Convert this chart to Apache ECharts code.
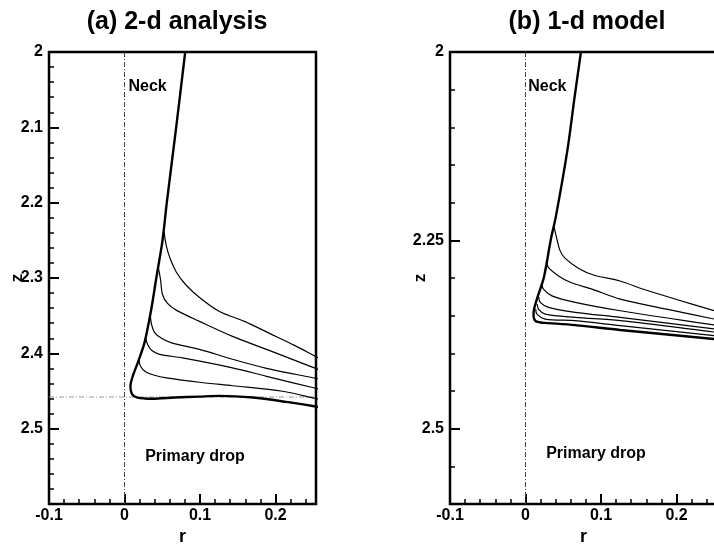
<!DOCTYPE html>
<html>
<head>
<meta charset="utf-8">
<script src="https://cdn.jsdelivr.net/npm/echarts@6/dist/echarts.min.js"></script>
<style>
  html, body { margin: 0; padding: 0; background: #fff; }
  #chart { width: 714px; height: 545px; }
</style>
</head>
<body>
<div id="chart"></div>
<script>
// ---- axis ticks and labels ----
const xMajorTicks = [-0.1, 0, 0.1, 0.2];
const xMinorTicks = [-0.08, -0.06, -0.04, -0.02, 0.02, 0.04, 0.06, 0.08, 0.12, 0.14, 0.16, 0.18, 0.22, 0.24];
const yMajorTicksA = [2, 2.1, 2.2, 2.3, 2.4, 2.5, 2.6];
const yLabelsA = [2, 2.1, 2.2, 2.3, 2.4, 2.5];
const yMinorTicksA = [2.02, 2.04, 2.06, 2.08, 2.12, 2.14, 2.16, 2.18, 2.22, 2.24, 2.26, 2.28,
                      2.32, 2.34, 2.36, 2.38, 2.42, 2.44, 2.46, 2.48, 2.52, 2.54, 2.56, 2.58];
const yMajorTicksB = [2, 2.25, 2.5, 2.6];
const yLabelsB = [2, 2.25, 2.5];
const yMinorTicksB = [2.05, 2.1, 2.15, 2.2, 2.3, 2.35, 2.4, 2.45, 2.55];

const rRange = [-0.1, 0.2536];
const zRange = [2, 2.6];

// ---- (a) 2-d analysis: interface profiles [r, z] ----
const aFinal = [[0.0804, 2.0000], [0.0685, 2.0993], [0.0560, 2.2000], [0.0503, 2.2503], [0.0420, 2.3007],
  [0.0354, 2.3417], [0.0265, 2.3858], [0.0176, 2.4123], [0.0110, 2.4301], [0.0079, 2.4433],
  [0.0086, 2.4503], [0.0110, 2.4556], [0.0172, 2.4587], [0.0265, 2.4599], [0.0371, 2.4603],
  [0.0662, 2.4587], [0.0993, 2.4574], [0.1258, 2.4565], [0.1699, 2.4587], [0.2142, 2.4645],
  [0.2530, 2.4706], [0.2600, 2.4720]];
const aCurve1 = [[0.0523, 2.2384], [0.0556, 2.2583], [0.0609, 2.2755], [0.0689, 2.2927], [0.0808, 2.3086],
  [0.0993, 2.3258], [0.1258, 2.3444], [0.1589, 2.3576], [0.1921, 2.3735], [0.2252, 2.3894],
  [0.2530, 2.4040], [0.2600, 2.4075]];
const aCurve2 = [[0.0448, 2.2861], [0.0477, 2.3020], [0.0503, 2.3219], [0.0570, 2.3338], [0.0689, 2.3430],
  [0.0993, 2.3576], [0.1430, 2.3775], [0.1881, 2.3947], [0.2530, 2.4199], [0.2600, 2.4225]];
const aCurve3 = [[0.0340, 2.3483], [0.0358, 2.3616], [0.0397, 2.3722], [0.0490, 2.3801], [0.0623, 2.3861],
  [0.0993, 2.3947], [0.1430, 2.4079], [0.1881, 2.4199], [0.2530, 2.4331], [0.2600, 2.4345]];
const aCurve4 = [[0.0278, 2.3788], [0.0305, 2.3881], [0.0358, 2.3960], [0.0464, 2.4013], [0.0768, 2.4060],
  [0.1430, 2.4192], [0.1881, 2.4305], [0.2530, 2.4464], [0.2600, 2.4482]];
const aCurve5 = [[0.0192, 2.4093], [0.0212, 2.4172], [0.0278, 2.4245], [0.0397, 2.4291], [0.0556, 2.4325],
  [0.0993, 2.4384], [0.1430, 2.4430], [0.2093, 2.4503], [0.2530, 2.4600], [0.2600, 2.4618]];
const aPinchLevel = 2.458;

// ---- (b) 1-d model: interface profiles [r, z] ----
const bFinal = [[0.0734, 2.0000], [0.0645, 2.0635], [0.0556, 2.1296], [0.0403, 2.2179], [0.0336, 2.2487],
  [0.0248, 2.2972], [0.0195, 2.3148], [0.0151, 2.3280], [0.0112, 2.3420], [0.0106, 2.3490],
  [0.0115, 2.3545], [0.0140, 2.3575], [0.0200, 2.3590], [0.0261, 2.3596], [0.0658, 2.3625],
  [0.1254, 2.3690], [0.2500, 2.3810], [0.2600, 2.3820]];
const bCurve1 = [[0.0380, 2.2328], [0.0415, 2.2480], [0.0459, 2.2640], [0.0526, 2.2740], [0.0700, 2.2870],
  [0.0900, 2.2960], [0.1250, 2.3040], [0.1563, 2.3150], [0.2000, 2.3285], [0.2500, 2.3435], [0.2600, 2.3465]];
const bCurve2 = [[0.0281, 2.2804], [0.0310, 2.2870], [0.0437, 2.2972], [0.0600, 2.3060], [0.0880, 2.3148],
  [0.1254, 2.3280], [0.1900, 2.3420], [0.2500, 2.3545], [0.2600, 2.3567]];
const bCurve3 = [[0.0215, 2.3080], [0.0238, 2.3148], [0.0350, 2.3237], [0.0658, 2.3324], [0.1254, 2.3435],
  [0.2500, 2.3624], [0.2600, 2.3640]];
const bCurve4 = [[0.0175, 2.3254], [0.0195, 2.3324], [0.0305, 2.3390], [0.0658, 2.3456], [0.1254, 2.3523],
  [0.2500, 2.3677], [0.2600, 2.3690]];
const bCurve5 = [[0.0155, 2.3347], [0.0172, 2.3413], [0.0261, 2.3479], [0.0658, 2.3522], [0.1254, 2.3567],
  [0.2500, 2.3717], [0.2600, 2.3730]];
const bCurve6 = [[0.0135, 2.3413], [0.0151, 2.3479], [0.0261, 2.3545], [0.0658, 2.3567], [0.1254, 2.3633],
  [0.2500, 2.3766], [0.2600, 2.3777]];

// ---- annotations [r, z, text] ----
const notesA = [[0.0053, 2.046, 'Neck'], [0.0274, 2.5377, 'Primary drop']];
const notesB = [[0.0036, 2.046, 'Neck'], [0.0274, 2.5330, 'Primary drop']];

// ---- panel titles ----
const titles = ['(a) 2-d analysis', '(b) 1-d model'];

const FONT = "'Liberation Sans', Arial, Helvetica, sans-serif";

function mainX(gi) {
  return {
    gridIndex: gi, type: 'value', min: rRange[0], max: rRange[1], position: 'bottom',
    name: 'r', nameLocation: 'middle', nameGap: 24, nameMoveOverlap: false,
    nameTextStyle: { fontFamily: FONT, fontWeight: 'bold', fontSize: 18, color: '#000' },
    axisLine: { show: false, onZero: false },
    axisTick: { show: true, inside: true, length: 10, customValues: xMajorTicks,
                lineStyle: { color: '#000', width: 2 } },
    axisLabel: { show: true, customValues: xMajorTicks, margin: 4, fontFamily: FONT,
                 fontWeight: 'bold', fontSize: 16, color: '#000', formatter: v => String(v) },
    splitLine: { show: false }
  };
}
function minorX(gi) {
  return {
    gridIndex: gi, type: 'value', min: rRange[0], max: rRange[1], position: 'bottom', offset: 0,
    axisLine: { show: false, onZero: false },
    axisTick: { show: true, inside: true, length: 5, customValues: xMinorTicks,
                lineStyle: { color: '#000', width: 1.5 } },
    axisLabel: { show: false }, splitLine: { show: false }
  };
}
function mainY(gi, ticks, labels, gap) {
  return {
    gridIndex: gi, type: 'value', min: zRange[0], max: zRange[1], inverse: true, position: 'left',
    name: 'z', nameLocation: 'middle', nameGap: gap, nameMoveOverlap: false,
    nameTextStyle: { fontFamily: FONT, fontWeight: 'bold', fontSize: 17, color: '#000' },
    axisLine: { show: false, onZero: false },
    axisTick: { show: true, inside: true, length: 10, customValues: ticks,
                lineStyle: { color: '#000', width: 2 } },
    axisLabel: { show: true, customValues: labels, margin: 6, fontFamily: FONT,
                 fontWeight: 'bold', fontSize: 16, color: '#000', formatter: v => String(v) },
    splitLine: { show: false }
  };
}
function minorY(gi, ticks) {
  return {
    gridIndex: gi, type: 'value', min: zRange[0], max: zRange[1], inverse: true, position: 'left', offset: 0,
    axisLine: { show: false, onZero: false },
    axisTick: { show: true, inside: true, length: 5, customValues: ticks,
                lineStyle: { color: '#000', width: 1.5 } },
    axisLabel: { show: false }, splitLine: { show: false }
  };
}

function profile(data, xi, yi, width) {
  return {
    type: 'line', xAxisIndex: xi, yAxisIndex: yi, data: data,
    symbol: 'none', showSymbol: false, smooth: 0.3, clip: true, silent: true,
    lineStyle: { color: '#000', width: width }, z: 3
  };
}
function refLine(data, xi, yi, color) {
  return {
    type: 'line', xAxisIndex: xi, yAxisIndex: yi, data: data,
    symbol: 'none', showSymbol: false, silent: true,
    lineStyle: { color: color, width: 1, type: [5, 2, 1, 2] }, z: 2
  };
}

const gridBase = { top: 52, width: 267, height: 452, show: true, borderColor: '#000', borderWidth: 2.5,
                   backgroundColor: 'transparent', containLabel: false, outerBoundsMode: 'none' };

const titleGraphics = [
  { type: 'text', x: 177, y: 22, style: { text: titles[0], fill: '#000', align: 'center',
    verticalAlign: 'middle', font: "bold 25px " + FONT } },
  { type: 'text', x: 587, y: 22, style: { text: titles[1], fill: '#000', align: 'center',
    verticalAlign: 'middle', font: "bold 25px " + FONT } }
];

const option = {
  backgroundColor: '#fff',
  animation: false,
  graphic: titleGraphics,
  grid: [
    Object.assign({ left: 49 }, gridBase),
    Object.assign({ left: 450 }, gridBase)
  ],
  xAxis: [mainX(0), minorX(0), mainX(1), minorX(1)],
  yAxis: [mainY(0, yMajorTicksA, yLabelsA, 23), minorY(0, yMinorTicksA),
          mainY(1, yMajorTicksB, yLabelsB, 21), minorY(1, yMinorTicksB)],
  series: [
    refLine([[0, zRange[0]], [0, zRange[1]]], 0, 0, '#444'),
    refLine([[rRange[0], aPinchLevel], [rRange[1], aPinchLevel]], 0, 0, '#999'),
    profile(aCurve1, 0, 0, 1.2),
    profile(aCurve2, 0, 0, 1.2),
    profile(aCurve3, 0, 0, 1.2),
    profile(aCurve4, 0, 0, 1.2),
    profile(aCurve5, 0, 0, 1.2),
    profile(aFinal, 0, 0, 2.4),

    refLine([[0, zRange[0]], [0, zRange[1]]], 2, 2, '#444'),
    profile(bCurve1, 2, 2, 1.2),
    profile(bCurve2, 2, 2, 1.2),
    profile(bCurve3, 2, 2, 1.2),
    profile(bCurve4, 2, 2, 1.2),
    profile(bCurve5, 2, 2, 1.2),
    profile(bCurve6, 2, 2, 1.2),
    profile(bFinal, 2, 2, 2.4)
  ]
};

const chart = echarts.init(document.getElementById('chart'), null, { renderer: 'canvas' });
chart.setOption(option);

// Place the region annotations at their (r, z) positions using each panel's axes.
function noteGraphics(notes, gridIndex) {
  return notes.map(n => {
    const p = chart.convertToPixel({ xAxisIndex: gridIndex * 2, yAxisIndex: gridIndex * 2 }, [n[0], n[1]]);
    return { type: 'text', x: p[0], y: p[1], z: 10,
             style: { text: n[2], fill: '#000', align: 'left', verticalAlign: 'middle',
                      font: "bold 16px " + FONT } };
  });
}
chart.setOption({
  graphic: titleGraphics.concat(noteGraphics(notesA, 0), noteGraphics(notesB, 1))
});
</script>
</body>
</html>
